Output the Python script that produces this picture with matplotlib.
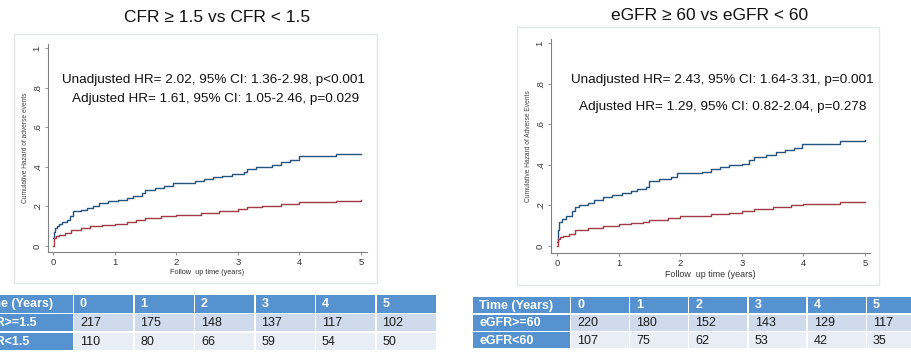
import matplotlib
matplotlib.use('Agg')
import matplotlib.pyplot as plt
from matplotlib.patches import Rectangle

plt.rcParams['font.family'] = ['Liberation Sans', 'DejaVu Sans']

W, H = 911, 352  # canvas size in pixels

# Cumulative hazard curves (step functions)
cfr_hi_t = [0, 0.01, 0.03, 0.06, 0.1, 0.15, 0.22, 0.27, 0.33, 0.45, 0.55, 0.65,
            0.75, 0.9, 1.05, 1.2, 1.3, 1.45, 1.5, 1.65, 1.8, 1.95, 2.3, 2.45,
            2.6, 2.75, 2.9, 3.1, 3.15, 3.3, 3.55, 3.7, 3.85, 4.0, 4.6, 5.0]
cfr_hi_v = [0.04, 0.07, 0.09, 0.10, 0.11, 0.12, 0.13, 0.15, 0.175, 0.18, 0.19, 0.20,
            0.215, 0.225, 0.23, 0.24, 0.255, 0.27, 0.285, 0.295, 0.305, 0.32, 0.33, 0.34,
            0.35, 0.355, 0.365, 0.375, 0.39, 0.40, 0.41, 0.425, 0.435, 0.455, 0.465, 0.466]
cfr_lo_t = [0, 0.01, 0.05, 0.1, 0.2, 0.3, 0.45, 0.6, 0.8, 1.0, 1.2, 1.35, 1.5,
            1.75, 2.0, 2.4, 2.7, 3.0, 3.15, 3.4, 3.7, 4.0, 4.6, 5.0]
cfr_lo_v = [0.0, 0.04, 0.05, 0.055, 0.066, 0.083, 0.09, 0.1, 0.105, 0.113, 0.12, 0.13, 0.143,
            0.15, 0.158, 0.165, 0.175, 0.185, 0.195, 0.2, 0.21, 0.222, 0.229, 0.23]

egfr_hi_t = [0, 0.01, 0.04, 0.08, 0.15, 0.25, 0.3, 0.35, 0.5, 0.6, 0.75, 0.9, 1.05,
             1.2, 1.3, 1.45, 1.5, 1.65, 1.85, 1.95, 2.35, 2.5, 2.65, 2.8, 3.0, 3.12,
             3.2, 3.4, 3.55, 3.7, 3.85, 3.98, 4.6, 5.0]
egfr_hi_v = [0.02, 0.08, 0.12, 0.135, 0.146, 0.17, 0.19, 0.2, 0.21, 0.225, 0.24, 0.25, 0.26,
             0.27, 0.28, 0.29, 0.32, 0.33, 0.34, 0.358, 0.365, 0.379, 0.39, 0.398, 0.406, 0.425,
             0.436, 0.45, 0.465, 0.475, 0.485, 0.504, 0.517, 0.522]
egfr_lo_t = [0, 0.01, 0.05, 0.1, 0.2, 0.3, 0.5, 0.75, 1.0, 1.2, 1.4, 1.5, 1.8, 2.0,
             2.5, 2.8, 3.0, 3.2, 3.5, 3.8, 4.0, 4.6, 5.0]
egfr_lo_v = [0.0, 0.035, 0.045, 0.05, 0.059, 0.078, 0.089, 0.099, 0.107, 0.113, 0.119, 0.13,
             0.138, 0.146, 0.159, 0.165, 0.171, 0.184, 0.192, 0.2, 0.208, 0.215, 0.216]

# Axis ticks
x_ticks = [0, 1, 2, 3, 4, 5]
y_ticks = [0, 0.2, 0.4, 0.6, 0.8, 1]
y_tick_labels = ['0', '.2', '.4', '.6', '.8', '1']

# Titles and annotations
titles = ['CFR \u2265 1.5 vs CFR < 1.5', 'eGFR \u2265 60 vs eGFR < 60']
unadj_text = ['Unadjusted HR= 2.02, 95% CI: 1.36-2.98, p<0.001',
              'Unadjusted HR= 2.43, 95% CI: 1.64-3.31, p=0.001']
adj_text = ['Adjusted HR= 1.61, 95% CI: 1.05-2.46, p=0.029',
            'Adjusted HR= 1.29, 95% CI: 0.82-2.04, p=0.278']
y_labels = ['Cumulative Hazard of adverse events', 'Cumulative Hazard of Adverse Events']
x_label = 'Follow  up time (years)'

# Numbers at risk tables
years = ['0', '1', '2', '3', '4', '5']
cfr_groups = ['CFR>=1.5', 'CFR<1.5']
cfr_hi_n = [217, 175, 148, 137, 117, 102]
cfr_lo_n = [110, 80, 66, 59, 54, 50]
egfr_groups = ['eGFR>=60', 'eGFR<60']
egfr_hi_n = [220, 180, 152, 143, 129, 117]
egfr_lo_n = [107, 75, 62, 53, 42, 35]

BLUE = '#24537f'
RED = '#a23a44'
HEAD = '#5592cf'
ROW1 = '#cfdbed'
ROW2 = '#e8edf6'


def fbox(x0, y0, x1, y1):
    return [x0 / W, 1 - y1 / H, (x1 - x0) / W, (y1 - y0) / H]


def ftext(fig, x, y, s, **kw):
    fig.text(x / W, 1 - y / H, s, **kw)


def draw_panel(fig, frame, axbox, x0px, x5px, y0px, y1px, curves, i, xl_size):
    # light frame around the graph
    fx0, fy0, fx1, fy1 = frame
    fig.patches.append(Rectangle((fx0 / W, 1 - fy1 / H), (fx1 - fx0) / W, (fy1 - fy0) / H,
                                 transform=fig.transFigure, fill=False,
                                 edgecolor='#e4e8e8', linewidth=1.0))
    ax = fig.add_axes(fbox(*axbox))
    ax.patch.set_alpha(0)
    xs = (x5px - x0px) / 5.0
    ys = (y0px - y1px) / 1.0
    ax.set_xlim((axbox[0] - x0px) / xs, 5 + (axbox[2] - x5px) / xs)
    ax.set_ylim(-(axbox[3] - y0px) / ys, 1 + (y1px - axbox[1]) / ys)
    for (t, v), c in zip(curves, [BLUE, RED]):
        ax.step(t, v, where='post', color=c, linewidth=1.0)
    for s in ['top', 'right']:
        ax.spines[s].set_visible(False)
    for s in ['left', 'bottom']:
        ax.spines[s].set_color('#808080')
        ax.spines[s].set_linewidth(0.8)
    ax.set_xticks(x_ticks)
    ax.set_xticklabels([str(v) for v in x_ticks], fontsize=6.8, color='#333333')
    ax.set_yticks(y_ticks)
    ax.set_yticklabels(y_tick_labels, fontsize=6.8, color='#333333',
                       rotation=90, va='center')
    ax.tick_params(length=2.5, width=0.6, color='#808080', pad=2)
    ax.set_xlabel(x_label, fontsize=xl_size, color='#333333', labelpad=1)
    ax.set_ylabel(y_labels[i], fontsize=4.8, color='#444444', labelpad=3)
    return ax


def draw_table(fig, x_first, first_w, x_cols, col_w, rows_y, groups, hi_n, lo_n):
    gap = 1.5
    table = [['Time (Years)'] + years,
             [groups[0]] + [str(n) for n in hi_n],
             [groups[1]] + [str(n) for n in lo_n]]
    for r, (ya, yb) in enumerate(rows_y):
        for c, val in enumerate(table[r]):
            if c == 0:
                xa, xb = x_first, x_first + first_w
            else:
                xa = x_cols + (c - 1) * col_w
                xb = xa + col_w
            if r == 0 or c == 0:
                fc, tc, fw = HEAD, 'white', 'bold'
            else:
                fc = ROW1 if r == 1 else ROW2
                tc, fw = '#1a1a1a', 'normal'
            fig.patches.append(Rectangle((xa / W, 1 - yb / H), (xb - xa - gap) / W,
                                         (yb - ya) / H, transform=fig.transFigure,
                                         facecolor=fc, edgecolor='none'))
            ftext(fig, xa + 6, (ya + yb) / 2 + 0.5, val, fontsize=9, color=tc,
                  fontweight=fw, ha='left', va='center')


fig = plt.figure(figsize=(W / 100, H / 100), dpi=100)
fig.patch.set_facecolor('white')

# left panel
ftext(fig, 217, 17, titles[0], fontsize=12.5, ha='center', va='center', color='#111111')
draw_panel(fig, (14, 34, 377, 283), (48, 44, 367, 252), 53, 361, 246, 48,
           [(cfr_hi_t, cfr_hi_v), (cfr_lo_t, cfr_lo_v)], 0, 5.3)
ftext(fig, 213, 80, unadj_text[0], fontsize=9.7, ha='center', va='center', color='#111111')
ftext(fig, 216, 99, adj_text[0], fontsize=9.7, ha='center', va='center', color='#111111')
draw_table(fig, -27, 101, 74, 60.5, [(295, 312.5), (314, 331), (332.5, 350)],
           cfr_groups, cfr_hi_n, cfr_lo_n)

# right panel
ftext(fig, 710, 16, titles[1], fontsize=12.5, ha='center', va='center', color='#111111')
draw_panel(fig, (517, 27, 879, 285), (551, 39, 870, 253), 557, 865, 246, 43,
           [(egfr_hi_t, egfr_hi_v), (egfr_lo_t, egfr_lo_v)], 1, 6.4)
ftext(fig, 722, 80, unadj_text[1], fontsize=9.7, ha='center', va='center', color='#111111')
ftext(fig, 723, 107, adj_text[1], fontsize=9.7, ha='center', va='center', color='#111111')
draw_table(fig, 473, 98, 571, 59.2, [(297, 313), (314.5, 330.5), (332, 348)],
           egfr_groups, egfr_hi_n, egfr_lo_n)

fig.savefig('out.png', dpi=100, facecolor='white')
